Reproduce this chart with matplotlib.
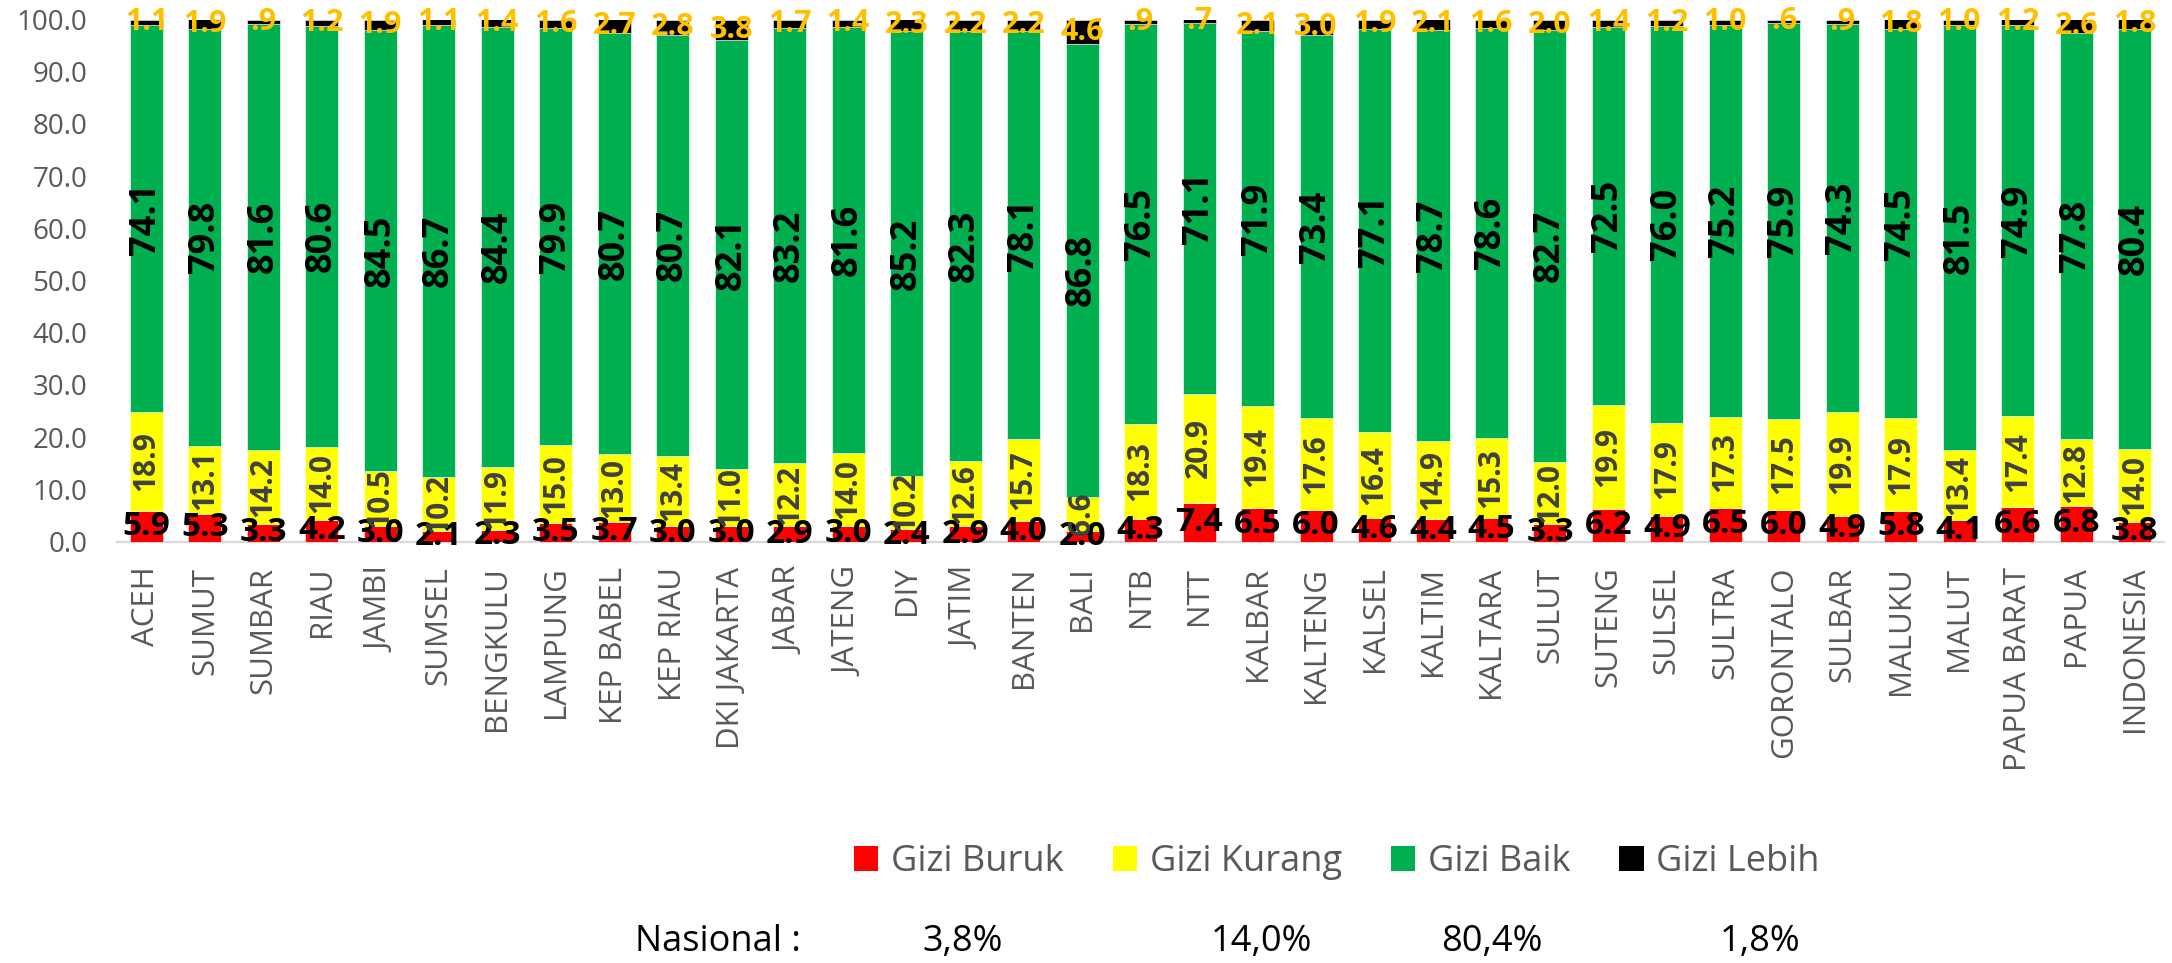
import matplotlib
matplotlib.use("Agg")
import matplotlib.pyplot as plt
from matplotlib.patches import Patch
import numpy as np

plt.rcParams['font.family'] = ['Open Sans', 'DejaVu Sans']

provinces = ["ACEH", "SUMUT", "SUMBAR", "RIAU", "JAMBI", "SUMSEL", "BENGKULU", "LAMPUNG",
             "KEP BABEL", "KEP RIAU", "DKI JAKARTA", "JABAR", "JATENG", "DIY", "JATIM", "BANTEN",
             "BALI", "NTB", "NTT", "KALBAR", "KALTENG", "KALSEL", "KALTIM", "KALTARA", "SULUT",
             "SUTENG", "SULSEL", "SULTRA", "GORONTALO", "SULBAR", "MALUKU", "MALUT",
             "PAPUA BARAT", "PAPUA", "INDONESIA"]

gizi_buruk = [5.9, 5.3, 3.3, 4.2, 3.0, 2.1, 2.3, 3.5, 3.7, 3.0, 3.0, 2.9, 3.0, 2.4, 2.9, 4.0,
              2.0, 4.3, 7.4, 6.5, 6.0, 4.6, 4.4, 4.5, 3.3, 6.2, 4.9, 6.5, 6.0, 4.9, 5.8, 4.1,
              6.6, 6.8, 3.8]
gizi_kurang = [18.9, 13.1, 14.2, 14.0, 10.5, 10.2, 11.9, 15.0, 13.0, 13.4, 11.0, 12.2, 14.0,
               10.2, 12.6, 15.7, 6.6, 18.3, 20.9, 19.4, 17.6, 16.4, 14.9, 15.3, 12.0, 19.9,
               17.9, 17.3, 17.5, 19.9, 17.9, 13.4, 17.4, 12.8, 14.0]
gizi_baik = [74.1, 79.8, 81.6, 80.6, 84.5, 86.7, 84.4, 79.9, 80.7, 80.7, 82.1, 83.2, 81.6,
             85.2, 82.3, 78.1, 86.8, 76.5, 71.1, 71.9, 73.4, 77.1, 78.7, 78.6, 82.7, 72.5,
             76.0, 75.2, 75.9, 74.3, 74.5, 81.5, 74.9, 77.8, 80.4]
gizi_lebih = [1.1, 1.9, 0.9, 1.2, 1.9, 1.1, 1.4, 1.6, 2.7, 2.8, 3.8, 1.7, 1.4, 2.3, 2.2, 2.2,
              4.6, 0.9, 0.7, 2.1, 3.0, 1.9, 2.1, 1.6, 2.0, 1.4, 1.2, 1.0, 0.6, 0.9, 1.8, 1.0,
              1.2, 2.6, 1.8]

series_names = ["Gizi Buruk", "Gizi Kurang", "Gizi Baik", "Gizi Lebih"]
series_colors = ["#FF0000", "#FFFF00", "#00B050", "#000000"]

nasional_label = "Nasional :"
nasional_values = ["3,8%", "14,0%", "80,4%", "1,8%"]
yticks = [0, 10, 20, 30, 40, 50, 60, 70, 80, 90, 100]

narrow = ['Liberation Sans Narrow', 'Open Sans', 'DejaVu Sans']


def fmt(v):
    s = f"{v:.1f}"
    if s.startswith("0"):
        s = s[1:]
    return s


W, H = 2172, 963
fig = plt.figure(figsize=(W / 100, H / 100), dpi=100)
left_px, right_px = 117.25, 2164.0
bottom_px, top_px = 541.6, 19.5
ax = fig.add_axes([left_px / W, 1 - bottom_px / H, (right_px - left_px) / W,
                   (bottom_px - top_px) / H])

x = np.arange(len(provinces))
bw = 0.565
data = [np.array(gizi_buruk), np.array(gizi_kurang), np.array(gizi_baik), np.array(gizi_lebih)]
bottom = np.zeros(len(provinces))
bars = []
for vals, name, col in zip(data, series_names, series_colors):
    ax.bar(x, vals, bw, bottom=bottom, color=col, label=name,
           edgecolor="#FFFFFF", linewidth=0.4, zorder=2)
    bars.append((vals, bottom.copy()))
    bottom = bottom + vals

# data labels
(vb, bb), (vk, bk), (vg, bg), (vl, bl) = bars
for i in range(len(provinces)):
    ax.text(x[i], bb[i] + vb[i] / 2, fmt(vb[i]), ha="center", va="center",
            fontsize=24, fontweight="bold", color="#000000", zorder=5, family=narrow)
    ax.text(x[i], bk[i] + vk[i] / 2, fmt(vk[i]), ha="center", va="center",
            rotation=90, fontsize=21.5, fontweight="bold", color="#404040", zorder=5)
    ax.text(x[i], bg[i] + vg[i] / 2, fmt(vg[i]), ha="center", va="center",
            rotation=90, fontsize=26, fontweight="bold", color="#000000", zorder=5)
    ax.text(x[i], bl[i] + vl[i] / 2, fmt(vl[i]), ha="center", va="center",
            fontsize=22, fontweight="bold", color="#FFC000", zorder=6, family=narrow)

ax.set_xlim(-0.5, len(provinces) - 0.5)
ax.set_ylim(0, 100)
ax.set_yticks(yticks)
ax.set_yticklabels([f"{t:.1f}" for t in yticks])
ax.set_xticks(x)
ax.set_xticklabels(provinces, rotation=90)
ax.tick_params(axis="y", length=0, pad=21.5, labelsize=20, labelcolor="#595959")
ax.tick_params(axis="x", length=0, pad=18, labelsize=22.5, labelcolor="#595959")
for s in ["left", "right", "top"]:
    ax.spines[s].set_visible(False)
ax.spines["bottom"].set_color("#D9D9D9")
ax.spines["bottom"].set_linewidth(1.6)
ax.spines["bottom"].set_zorder(1)

handles = [Patch(facecolor=c, edgecolor="none") for c in series_colors]
fig.legend(handles, series_names, loc="center", bbox_to_anchor=(1337 / W, 1 - 862 / H),
           ncol=4, frameon=False, fontsize=26, labelcolor="#595959",
           handlelength=0.67, handleheight=0.67, handletextpad=0.35,
           columnspacing=1.36, borderpad=0)

nas_x = [635, 922, 1211, 1441, 1720]
y_nas = 1 - 942 / H
fig.text(nas_x[0] / W, y_nas, nasional_label, ha="left", va="center", fontsize=26, color="#000000")
for xp, t in zip(nas_x[1:], nasional_values):
    fig.text(xp / W, y_nas, t, ha="left", va="center", fontsize=26, color="#000000")

fig.savefig("out.png", dpi=100, facecolor="white")
